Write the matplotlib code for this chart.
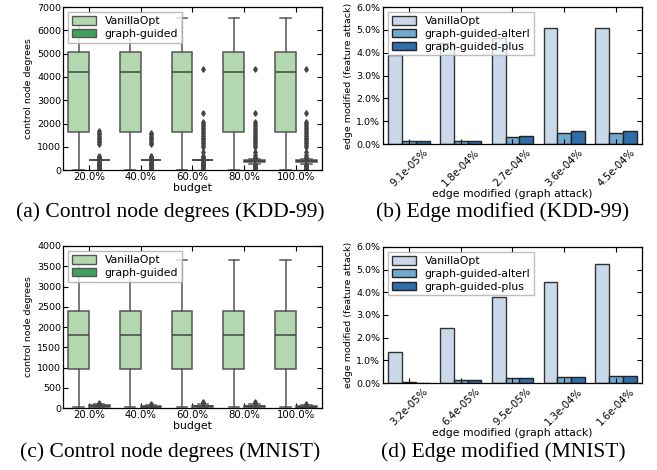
"""Control node degrees and edge modification for KDD-99 and MNIST."""

import matplotlib

matplotlib.use("Agg")
import matplotlib.pyplot as plt
import numpy as np
from matplotlib.patches import Patch
from matplotlib.ticker import FuncFormatter

# ---- data -------------------------------------------------------------
budgets = ["20.0%", "40.0%", "60.0%", "80.0%", "100.0%"]

# box summaries: (whislo, q1, median, q3, whishi)
kdd_vanilla = [(0, 1630, 4230, 5080, 6520)] * 5
kdd_guided = [
    (415, 420, 432, 440, 450),
    (415, 420, 432, 440, 450),
    (415, 420, 432, 440, 450),
    (250, 345, 400, 445, 470),
    (250, 345, 400, 445, 470),
]
kdd_guided_fliers = [
    [0, 40, 80, 120, 160, 200, 240, 280, 320, 360, 395, 480, 520, 560, 610,
     1130, 1200, 1270, 1340, 1400, 1470, 1540, 1610, 1700],
    [0, 40, 80, 120, 160, 200, 240, 280, 320, 360, 395, 480, 520, 560, 610,
     1110, 1180, 1250, 1330, 1400, 1470, 1540, 1600],
    [0, 40, 80, 120, 160, 200, 240, 280, 320, 360, 395, 480, 520, 560, 610,
     780, 1000, 1080, 1160, 1240, 1320, 1400, 1480, 1560, 1640, 1720, 1800,
     1880, 1960, 2050, 2450, 4350],
    [0, 40, 80, 120, 160, 200, 230, 520, 580, 640, 760, 1000, 1080, 1160,
     1240, 1320, 1400, 1480, 1560, 1640, 1720, 1800, 1880, 1960, 2050, 2450,
     4350],
    [0, 40, 80, 120, 160, 200, 230, 520, 580, 640, 760, 1000, 1080, 1160,
     1240, 1320, 1400, 1480, 1560, 1640, 1720, 1800, 1880, 1960, 2050, 2450,
     4350],
]

mnist_vanilla = [(25, 975, 1810, 2385, 3665)] * 5
mnist_guided = [
    (0, 20, 45, 70, 105),
    (0, 15, 35, 55, 80),
    (0, 15, 40, 60, 95),
    (0, 15, 40, 60, 95),
    (0, 15, 35, 55, 80),
]
mnist_guided_fliers = [[125], [95], [120, 140], [120, 140], [100]]

kdd_graph_labels = ["9.1e-05%", "1.8e-04%", "2.7e-04%", "3.6e-04%", "4.5e-04%"]
kdd_vanilla_edge = [3.9, 4.43, 4.65, 5.08, 5.08]
kdd_alter_edge = [0.15, 0.15, 0.29, 0.47, 0.47]
kdd_plus_edge = [0.12, 0.12, 0.35, 0.56, 0.56]

mnist_graph_labels = ["3.2e-05%", "6.4e-05%", "9.5e-05%", "1.3e-04%", "1.6e-04%"]
mnist_vanilla_edge = [1.36, 2.44, 3.78, 4.45, 5.27]
mnist_alter_edge = [0.03, 0.13, 0.2, 0.28, 0.31]
mnist_plus_edge = [0.015, 0.13, 0.2, 0.28, 0.32]

# ---- style ------------------------------------------------------------
plt.rcParams.update({
    "font.family": "DejaVu Sans",
    "font.size": 7,
    "axes.linewidth": 0.9,
    "xtick.direction": "in",
    "ytick.direction": "in",
    "xtick.top": True,
    "ytick.right": True,
    "xtick.major.size": 3.5,
    "ytick.major.size": 3.5,
    "xtick.major.pad": 1.2,
    "ytick.major.pad": 1.2,
    "xtick.labelsize": 7.3,
    "ytick.labelsize": 6.8,
})

GREEN_LIGHT = "#b3d8b0"
GREEN_DARK = "#41a05c"
BLUES = ["#c9d9e9", "#74a9cf", "#2f6ea8"]
GREY = "#555555"
XLABEL_SIZE = 7.8
YLABEL_SIZE = 6.8
LEGEND_SIZE = 7.8


def stats_list(summary, fliers=None):
    out = []
    for i, (lo, q1, med, q3, hi) in enumerate(summary):
        out.append({"whislo": lo, "q1": q1, "med": med, "q3": q3, "whishi": hi,
                    "fliers": fliers[i] if fliers else []})
    return out


def box_panel(ax, vanilla, guided, guided_fliers, ymax, ystep):
    x = np.arange(len(budgets))
    common = dict(widths=0.4, patch_artist=True,
                  whiskerprops=dict(color=GREY, linewidth=1.1),
                  capprops=dict(color=GREY, linewidth=1.1),
                  medianprops=dict(color="#444444", linewidth=1.1),
                  flierprops=dict(marker="d", markersize=2.8, markerfacecolor="#444444",
                                  markeredgecolor="#444444", linestyle="none"))
    ax.bxp(stats_list(vanilla), positions=x - 0.2,
           boxprops=dict(facecolor=GREEN_LIGHT, edgecolor=GREY, linewidth=1.1), **common)
    ax.bxp(stats_list(guided, guided_fliers), positions=x + 0.2,
           boxprops=dict(facecolor=GREEN_DARK, edgecolor=GREY, linewidth=1.1), **common)
    ax.set_xlim(-0.5, len(budgets) - 0.5)
    ax.set_xticks(x)
    ax.set_xticklabels(budgets)
    ax.set_ylim(0, ymax)
    ax.set_yticks(np.arange(0, ymax + 1, ystep))
    ax.set_xlabel("budget", fontsize=XLABEL_SIZE, labelpad=1)
    ax.set_ylabel("control node degrees", fontsize=YLABEL_SIZE, labelpad=3)
    handles = [Patch(facecolor=GREEN_LIGHT, edgecolor=GREY, label="VanillaOpt"),
               Patch(facecolor=GREEN_DARK, edgecolor=GREY, label="graph-guided")]
    ax.legend(handles=handles, loc="upper left", fontsize=LEGEND_SIZE, fancybox=False,
              framealpha=0.8, edgecolor="#aaaaaa", handlelength=2.2,
              handleheight=0.8, borderpad=0.35, labelspacing=0.25)


def bar_panel(ax, labels, vanilla, alter, plus):
    x = np.arange(len(labels))
    w = 0.8 / 3
    ax.bar(x - w, vanilla, w, color=BLUES[0], edgecolor="#333333", linewidth=1, label="VanillaOpt")
    ax.bar(x, alter, w, color=BLUES[1], edgecolor="#222222", linewidth=1, label="graph-guided-alterI")
    ax.bar(x + w, plus, w, color=BLUES[2], edgecolor="#222222", linewidth=1, label="graph-guided-plus")
    ax.set_xlim(-0.5, len(labels) - 0.5)
    ax.set_xticks(x)
    ax.set_xticklabels(labels, rotation=45, ha="center")
    ax.tick_params(axis="x", pad=2.5)
    ax.tick_params(axis="y", pad=2)
    ax.set_ylim(0, 6)
    ax.set_yticks(np.arange(0, 7, 1))
    ax.yaxis.set_major_formatter(FuncFormatter(lambda v, _: "%.1f%%" % v))
    ax.set_xlabel("edge modified (graph attack)", fontsize=XLABEL_SIZE, labelpad=0)
    ax.set_ylabel("edge modified (feature attack)", fontsize=YLABEL_SIZE, labelpad=2)
    ax.legend(loc="upper left", fontsize=LEGEND_SIZE, fancybox=False, framealpha=0.75,
              edgecolor="#aaaaaa", handlelength=2.2, handleheight=0.8,
              borderpad=0.35, labelspacing=0.25)


fig = plt.figure(figsize=(6.57, 4.70), dpi=100)
ax_a = fig.add_axes([0.0959, 0.638, 0.394, 0.347])
ax_b = fig.add_axes([0.583, 0.6936, 0.394, 0.2915])
ax_c = fig.add_axes([0.0959, 0.1319, 0.394, 0.3447])
ax_d = fig.add_axes([0.583, 0.1851, 0.394, 0.2894])

box_panel(ax_a, kdd_vanilla, kdd_guided, kdd_guided_fliers, 7000, 1000)
bar_panel(ax_b, kdd_graph_labels, kdd_vanilla_edge, kdd_alter_edge, kdd_plus_edge)
box_panel(ax_c, mnist_vanilla, mnist_guided, mnist_guided_fliers, 4000, 500)
bar_panel(ax_d, mnist_graph_labels, mnist_vanilla_edge, mnist_alter_edge, mnist_plus_edge)

cap = dict(family="Liberation Serif", fontsize=15.5, ha="center", va="center")
fig.text(170 / 657, 1 - 212 / 470, "(a) Control node degrees (KDD-99)", **cap)
fig.text(503 / 657, 1 - 212 / 470, "(b) Edge modified (KDD-99)", **cap)
fig.text(170 / 657, 1 - 452 / 470, "(c) Control node degrees (MNIST)", **cap)
fig.text(503 / 657, 1 - 452 / 470, "(d) Edge modified (MNIST)", **cap)

fig.savefig("out.png", dpi=100)
